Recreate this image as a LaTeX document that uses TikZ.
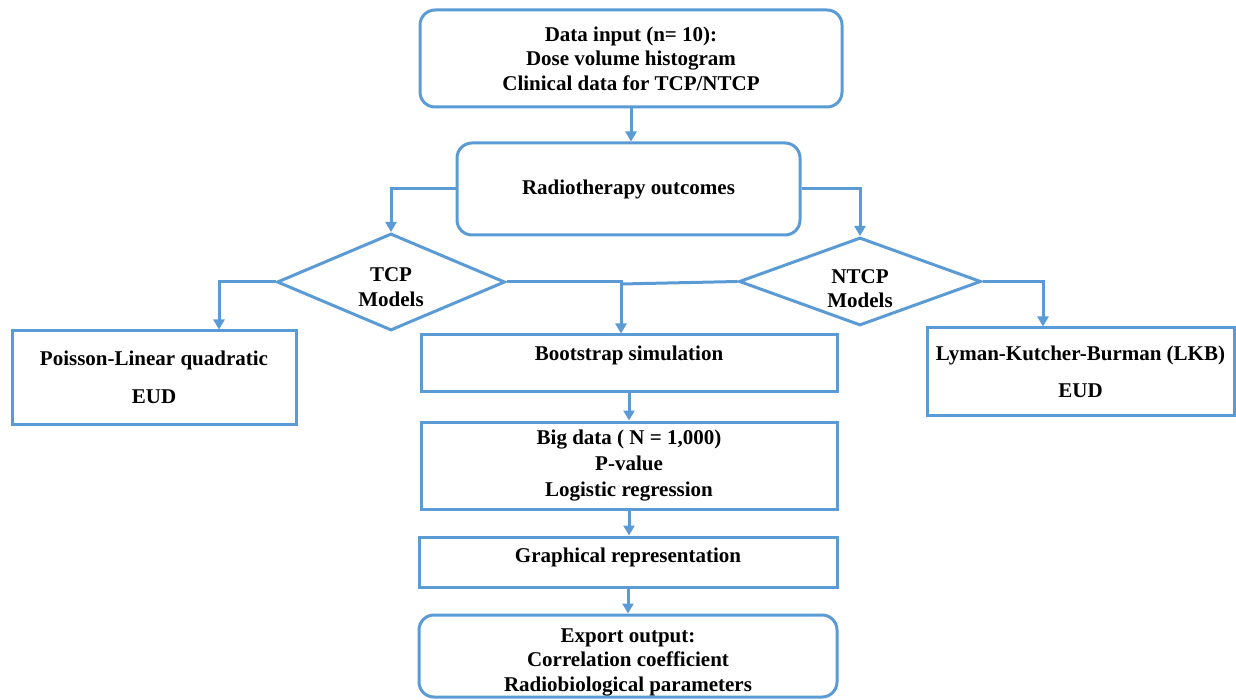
\documentclass[tikz,border=0pt]{standalone}
\usepackage{fontspec}
\setmainfont{Liberation Serif}
\usetikzlibrary{shapes.geometric,arrows.meta}
\definecolor{flowblue}{RGB}{91,155,213}

\begin{document}
\begin{tikzpicture}[x=1pt,y=-1pt,
    every node/.style={font=\fontsize{21}{24.5}\selectfont\bfseries, align=center, inner sep=0pt},
    plainbox/.style={draw=flowblue, line width=3pt},
    roundbox/.style={plainbox, rounded corners=15pt},
    decision/.style={draw=flowblue, line width=3pt, diamond, aspect=3},
    link/.style={draw=flowblue, line width=3pt},
    flow/.style={link, -{Triangle[length=10pt,width=11pt]}}]
    \useasboundingbox (0,0) rectangle (1236,700);

    % Input and outcomes
    \node[roundbox, minimum width=422pt, minimum height=97pt] (data) at (631,58.5)
        {Data input (n= 10):\\Dose volume histogram\\Clinical data for TCP/NTCP};
    \node[roundbox, minimum width=343pt, minimum height=92pt] (outcome) at (628.5,189)
        {Radiotherapy outcomes};

    % Models
    \node[decision, minimum width=228pt, minimum height=97pt] (tcp) at (391,282)
        {\rule{0pt}{24pt}TCP\\Models};
    \node[decision, minimum width=242pt, minimum height=88pt] (ntcp) at (860,281.5)
        {\rule{0pt}{28pt}NTCP\\Models};
    \node[plainbox, minimum width=284pt, minimum height=93pt] (poisson) at (154,377.5)
        {Poisson-Linear quadratic\\[13.5pt]EUD};
    \node[plainbox, minimum width=307pt, minimum height=87pt] (lkb) at (1080.5,371.5)
        {Lyman-Kutcher-Burman (LKB)\\[12.5pt]EUD};

    % Simulation chain
    \node[plainbox, minimum width=416pt, text height=25pt, text depth=31pt] (boot) at (629,363)
        {Bootstrap simulation};
    \node[plainbox, minimum width=416pt, minimum height=87pt] (big) at (629,465.5)
        {Big data ( N = 1,000)\\[1.5pt]P-value\\[1.5pt]Logistic regression};
    \node[plainbox, minimum width=418pt, text height=25pt, text depth=25pt] (graph) at (628,562)
        {Graphical representation};
    \node[roundbox, minimum width=418pt, minimum height=82pt] (export) at (628,656)
        {\rule{0pt}{26pt}Export output:\\Correlation coefficient\\Radiobiological parameters};

    % Connectors
    \coordinate (merge) at (621,284);
    \draw[flow] (data.south) -- (data.south |- outcome.north);
    \draw[flow] (outcome.west) -| (tcp.north);
    \draw[flow] (outcome.east) -| (ntcp.north);
    \draw[flow] (tcp.west) -| ([xshift=65pt]poisson.north);
    \draw[flow] (ntcp.east) -| ([xshift=-37.5pt]lkb.north);
    \draw[flow] (tcp.east) -| (merge |- boot.north);
    \draw[link] (ntcp.west) -- (merge);
    \draw[flow] (boot.south) -- (big.north);
    \draw[flow] (big.south) -- (big.south |- graph.north);
    \draw[flow] (graph.south) -- (export.north);
\end{tikzpicture}
\end{document}
